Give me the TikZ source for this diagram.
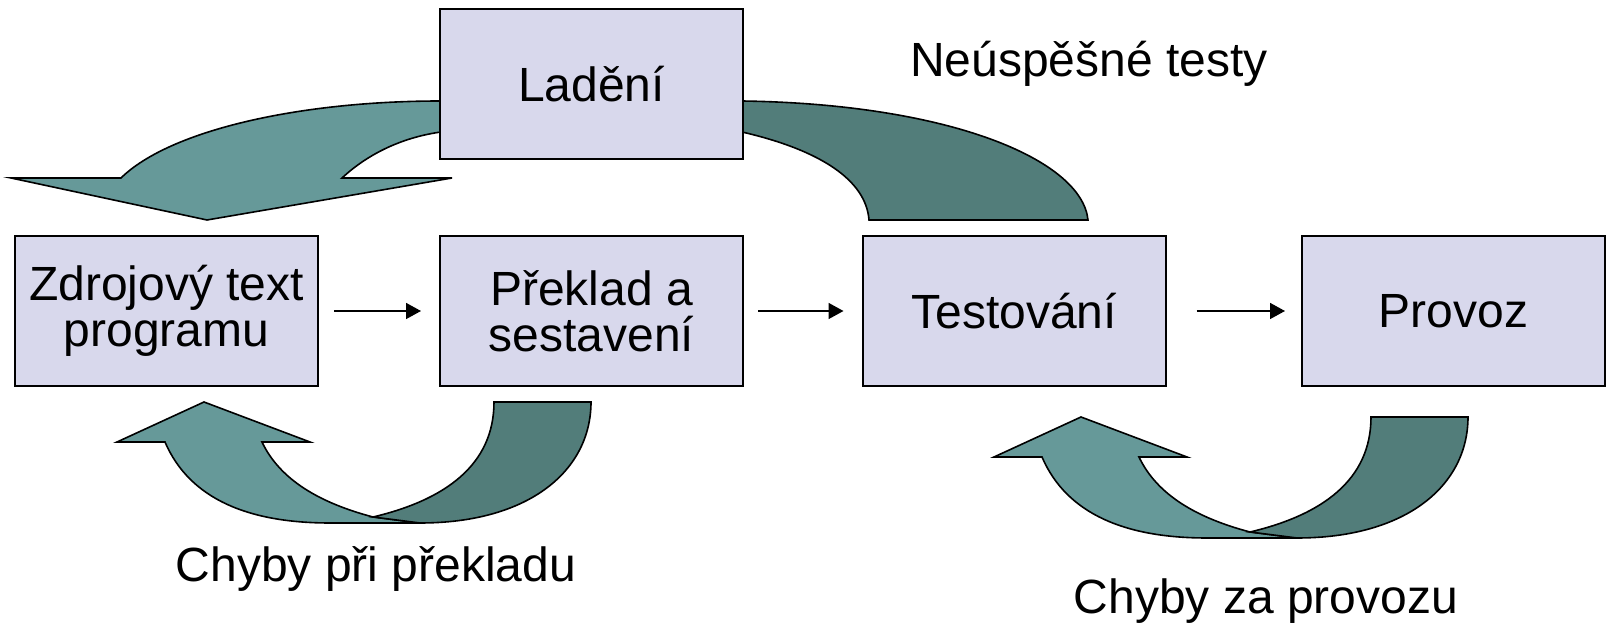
\documentclass[tikz,border=0pt]{standalone}
\usepackage{fontspec}
\setmainfont{Liberation Sans}
\usepackage{xcolor}
\usepackage{tikz}
\usetikzlibrary{arrows.meta}
\usetikzlibrary{positioning}
\definecolor{boxfill}{RGB}{216,216,236}
\definecolor{tealA}{RGB}{102,153,153}
\definecolor{tealB}{RGB}{82,125,122}

\begin{document}
\begin{tikzpicture}[x=0.5pt, y=-0.5pt]
\tikzset{BoxStyle/.style = {shape=rectangle, draw, line width=1pt, fill=boxfill, minimum width=151.5pt, minimum height=75pt, inner sep=0pt, align=center, font=\fontsize{24}{23}\selectfont}}
\tikzset{FlowStyle/.style = {-{Triangle[length=7.5pt, width=8pt]}, line width=0.8pt}}
\tikzset{LightArrow/.style = {draw, line width=0.8pt, fill=tealA, line join=miter}}
\tikzset{DarkArrow/.style = {draw, line width=0.8pt, fill=tealB, line join=miter}}
\tikzset{LabelStyle/.style = {anchor=base, inner sep=0pt, font=\fontsize{24}{24}\selectfont}}
	\useasboundingbox (0,0) rectangle (1608,635);

	% big curved arrows round Ladeni
	\path[LightArrow] (460,101) -- (441,101) .. controls (300,101) and (170,130) .. (121,178)
		-- (11,178) -- (207,220) -- (452,178) -- (342,178)
		.. controls (370,152) and (405,137) .. (441,132) -- (460,132) -- cycle;
	\path[DarkArrow] (725,101) -- (742,101) .. controls (950,104) and (1082,160) .. (1088,220)
		-- (869,220) .. controls (866,180) and (820,150) .. (742,132) -- (725,132) -- cycle;

	% curved arrows below the boxes
	\foreach \dx/\dy in {0/0, 877/15} {
	\begin{scope}[shift={(\dx,\dy)}]
		\path[LightArrow] (165,442) .. controls (190,500) and (250,523) .. (330,523) -- (420,523)
			-- (373,517) .. controls (320,503) and (280,480) .. (262,442)
			-- (310,442) -- (204,402) -- (117,442) -- cycle;
		\path[DarkArrow] (373,517) -- (420,523) .. controls (530,523) and (591,470) .. (591,402)
			-- (494,402) .. controls (494,465) and (445,500) .. (373,517) -- cycle;
	\end{scope}
	}

	\node[BoxStyle] (ladeni) at (591.5,84) {Ladění};
	\node[BoxStyle] (zdroj) at (166.5,311) {Zdrojový text\\programu};
	\node[BoxStyle] (preklad) at (591.5,311) {Překlad a\\sestavení};
	\node[BoxStyle] (test) at (1014,311) {Testování};
	\node[BoxStyle] (provoz) at (1453.5,311) {Provoz};

	\draw[FlowStyle, shorten <=7.5pt, shorten >=9pt] (zdroj) -- (preklad);
	\draw[FlowStyle, shorten <=7pt, shorten >=9pt] (preklad) -- (test);
	\draw[FlowStyle, shorten <=15pt, shorten >=8pt] (test) -- (provoz);

	\node[LabelStyle] (neusp) at (1089,77) {Neúspěšné testy};
	\node[LabelStyle] (chpreklad) at (376,582) {Chyby při překladu};
	\node[LabelStyle] (chprovoz) at (1266,614) {Chyby za provozu};

\end{tikzpicture}
\end{document}
